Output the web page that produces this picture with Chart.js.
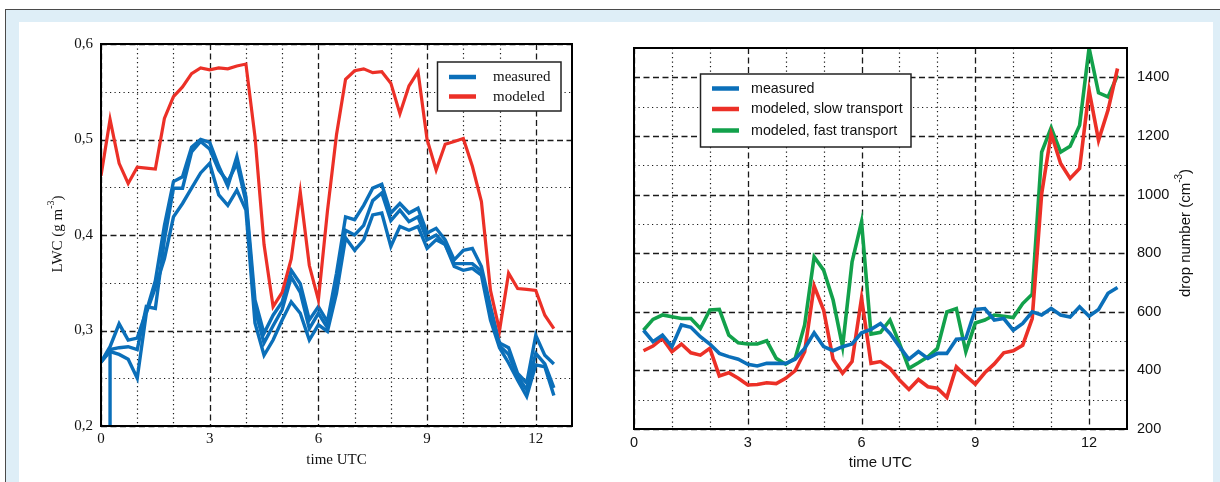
<!DOCTYPE html>
<html><head><meta charset="utf-8">
<script src="https://cdn.jsdelivr.net/npm/chart.js@4.4.0/dist/chart.umd.min.js"></script>
<style>
html,body{margin:0;padding:0;width:1220px;height:482px;overflow:hidden;background:#fff;}
#frame{position:absolute;left:5px;top:9px;width:1220px;height:480px;background:#deeef7;border-left:1.5px solid #4a4a4a;border-top:1.5px solid #4a4a4a;}
#panel{position:absolute;left:19px;top:22px;width:1194px;height:470px;background:#fff;}
canvas{position:absolute;top:0;}
</style></head><body>
<div id="frame"></div><div id="panel"></div>
<canvas id="c1" width="610" height="482" style="left:0px"></canvas>
<canvas id="c2" width="610" height="482" style="left:610px"></canvas>
<script>
// ---------- Left chart: LWC ----------
const lwcTime = [0,0.25,0.5,0.75,1,1.25,1.5,1.75,2,2.25,2.5,2.75,3,3.25,3.5,3.75,4,4.25,4.5,4.75,5,5.25,5.5,5.75,6,6.25,6.5,6.75,7,7.25,7.5,7.75,8,8.25,8.5,8.75,9,9.25,9.5,9.75,10,10.25,10.5,10.75,11,11.25,11.5,11.75,12,12.25,12.5];
const lwcMeasuredA = [0.267,0.283,0.307,0.29,0.292,0.32,0.352,0.41,0.456,0.461,0.492,0.5,0.497,0.472,0.451,0.482,0.44,0.332,0.297,0.316,0.33,0.363,0.349,0.311,0.325,0.309,0.36,0.419,0.416,0.431,0.449,0.453,0.423,0.433,0.423,0.428,0.402,0.407,0.395,0.374,0.384,0.386,0.367,0.325,0.287,0.282,0.255,0.245,0.295,0.274,0.265];
const lwcMeasuredB = [0.267,0.28,0.282,0.283,0.28,0.325,0.323,0.395,0.449,0.449,0.487,0.498,0.49,0.468,0.456,0.475,0.435,0.322,0.287,0.305,0.322,0.356,0.34,0.302,0.318,0.303,0.35,0.405,0.4,0.41,0.436,0.444,0.415,0.426,0.414,0.419,0.395,0.4,0.39,0.37,0.37,0.37,0.362,0.318,0.284,0.275,0.252,0.238,0.276,0.265,0.24];
const lwcMeasuredC = [0.267,0.278,0.275,0.27,0.25,0.318,0.345,0.375,0.419,0.433,0.449,0.465,0.475,0.442,0.431,0.447,0.426,0.308,0.274,0.29,0.311,0.33,0.318,0.29,0.306,0.299,0.339,0.397,0.384,0.395,0.421,0.423,0.388,0.409,0.405,0.409,0.386,0.395,0.39,0.367,0.363,0.365,0.358,0.311,0.282,0.266,0.248,0.231,0.264,0.262,0.232];
const lwcDropTime = [0.25,0.25];
const lwcDropValues = [0.28,0.1];
const lwcModeled = [0.462,0.521,0.475,0.454,0.471,0.470,0.469,0.522,0.545,0.555,0.569,0.575,0.573,0.575,0.574,0.577,0.579,0.503,0.39,0.325,0.34,0.375,0.445,0.368,0.332,0.425,0.505,0.563,0.572,0.574,0.570,0.571,0.559,0.527,0.556,0.571,0.5,0.468,0.495,0.498,0.501,0.472,0.435,0.342,0.30,0.36,0.344,0.343,0.342,0.316,0.302];
const lwcXTicks = [0,3,6,9,12];
const lwcXTickLabels = ['0','3','6','9','12'];
const lwcYTicks = [0.2,0.3,0.4,0.5,0.6];
const lwcYTickLabels = ['0,2','0,3','0,4','0,5','0,6'];
const lwcMinorX = [1,2,4,5,7,8,10,11];
const lwcMinorY = [0.25,0.35,0.45,0.55];

// ---------- Right chart: drop number ----------
const dropTime = [0.25,0.5,0.75,1,1.25,1.5,1.75,2,2.25,2.5,2.75,3,3.25,3.5,3.75,4,4.25,4.5,4.75,5,5.25,5.5,5.75,6,6.25,6.5,6.75,7,7.25,7.5,7.75,8,8.25,8.5,8.75,9,9.25,9.5,9.75,10,10.25,10.5,10.75,11,11.25,11.5,11.75,12,12.25,12.5,12.75];
const dropMeasured = [537,498,520,481,555,547,515,490,458,447,438,421,415,424,424,424,438,475,528,481,467,481,490,528,540,560,526,481,438,464,441,458,458,506,509,608,611,572,577,537,560,600,589,611,589,582,617,585,608,663,683];
const dropSlow = [467,483,509,464,490,460,452,475,381,392,373,350,352,358,355,373,399,464,688,606,438,390,430,646,424,430,407,367,335,369,344,339,308,412,381,353,392,422,460,467,486,577,1003,1208,1106,1055,1089,1355,1185,1288,1430];
const dropFast = [537,574,589,583,577,577,543,606,608,520,494,490,490,501,441,421,441,555,787,742,640,481,770,907,524,530,572,492,407,426,446,475,600,611,464,562,572,589,585,580,628,660,1145,1228,1145,1165,1236,1500,1347,1333,1407];
const dropXTicks = [0,3,6,9,12];
const dropXTickLabels = ['0','3','6','9','12'];
const dropYTicks = [200,400,600,800,1000,1200,1400];
const dropYTickLabels = ['200','400','600','800','1000','1200','1400'];
const dropMinorX = [1,2,4,5,7,8,10,11];
const dropMinorY = [300,500,700,900,1100,1300];

const BLUE = '#0b6fb9', RED = '#ec3027', GREEN = '#12a14b';
const SERIF = "'Liberation Serif', 'Times New Roman', serif";
const SANS = "'Liberation Sans', Arial, sans-serif";

const toXY = (xs, ys) => xs.map((x, i) => ({x: x, y: ys[i]}));

const gridPlugin = {
  id: 'customGrid',
  beforeDatasetsDraw(chart, args, o) {
    const ctx = chart.ctx, a = chart.chartArea, x = chart.scales.x, y = chart.scales.y;
    ctx.save();
    ctx.strokeStyle = '#1a1a1a';
    ctx.lineWidth = 1.2; ctx.setLineDash([1.2, 3.3]);
    ctx.beginPath();
    o.minorX.forEach(v => { const p = Math.round(x.getPixelForValue(v)) + 0.5; ctx.moveTo(p, a.top); ctx.lineTo(p, a.bottom); });
    o.minorY.forEach(v => { const p = Math.round(y.getPixelForValue(v)) + 0.5; ctx.moveTo(a.left, p); ctx.lineTo(a.right, p); });
    ctx.stroke();
    ctx.lineWidth = 1.3; ctx.setLineDash([6, 3.5]);
    ctx.beginPath();
    o.majorX.forEach(v => { const p = Math.round(x.getPixelForValue(v)) + 0.5; ctx.moveTo(p, a.top); ctx.lineTo(p, a.bottom); });
    o.majorY.forEach(v => { const p = Math.round(y.getPixelForValue(v)) + 0.5; ctx.moveTo(a.left, p); ctx.lineTo(a.right, p); });
    ctx.stroke();
    ctx.restore();
  },
  afterDatasetsDraw(chart) {
    const ctx = chart.ctx, a = chart.chartArea;
    ctx.save();
    ctx.strokeStyle = '#000'; ctx.lineWidth = 2; ctx.setLineDash([]);
    ctx.strokeRect(a.left, a.top, a.right - a.left, a.bottom - a.top);
    ctx.restore();
  }
};

function drawRuns(ctx, runs, size, family, cx, cy, rot) {
  ctx.save();
  ctx.translate(cx, cy); ctx.rotate(rot);
  const supSize = Math.round(size * 0.68);
  let total = 0;
  runs.forEach(r => { ctx.font = (r.sup ? supSize : size) + 'px ' + family; r.w = ctx.measureText(r.t).width; total += r.w; });
  let xx = -total / 2;
  ctx.textBaseline = 'middle'; ctx.textAlign = 'left'; ctx.fillStyle = '#111';
  runs.forEach(r => {
    ctx.font = (r.sup ? supSize : size) + 'px ' + family;
    ctx.fillText(r.t, xx, r.sup ? -size * 0.42 : 0);
    xx += r.w;
  });
  ctx.restore();
}

const titlesPlugin = {
  id: 'axisTitles',
  afterDraw(chart, args, o) {
    const ctx = chart.ctx, a = chart.chartArea;
    drawRuns(ctx, o.xTitle, o.size, o.family, (a.left + a.right) / 2, o.xTitleY, 0);
    drawRuns(ctx, o.yTitle, o.size, o.family, o.yTitleX, o.yTitleY, -Math.PI / 2);
  }
};

const legendPlugin = {
  id: 'boxLegend',
  afterDraw(chart, args, o) {
    const ctx = chart.ctx;
    ctx.save();
    ctx.fillStyle = '#fff';
    ctx.fillRect(o.box[0], o.box[1], o.box[2] - o.box[0], o.box[3] - o.box[1]);
    ctx.strokeStyle = '#222'; ctx.lineWidth = 1.5; ctx.setLineDash([]);
    ctx.strokeRect(o.box[0], o.box[1], o.box[2] - o.box[0], o.box[3] - o.box[1]);
    ctx.font = o.size + 'px ' + o.family; ctx.textBaseline = 'middle'; ctx.textAlign = 'left';
    o.entries.forEach((di, k) => {
      const ds = chart.data.datasets[di];
      const yy = o.rows[k];
      ctx.strokeStyle = ds.borderColor; ctx.lineWidth = 4.5;
      ctx.beginPath(); ctx.moveTo(o.lineX[0], yy); ctx.lineTo(o.lineX[1], yy); ctx.stroke();
      ctx.fillStyle = '#111';
      ctx.fillText(ds.label, o.textX, yy + 0.5);
    });
    ctx.restore();
  }
};

const lineDefaults = {pointRadius: 0, fill: false, tension: 0, borderJoinStyle: 'miter'};

new Chart(document.getElementById('c1'), {
  type: 'line',
  data: {
    datasets: [
      Object.assign({label: 'modeled', data: toXY(lwcTime, lwcModeled), borderColor: RED, borderWidth: 3.2}, lineDefaults),
      Object.assign({label: 'measured', data: toXY(lwcTime, lwcMeasuredA), borderColor: BLUE, borderWidth: 3.4}, lineDefaults),
      Object.assign({label: 'measured B', data: toXY(lwcTime, lwcMeasuredB), borderColor: BLUE, borderWidth: 3.4}, lineDefaults),
      Object.assign({label: 'measured C', data: toXY(lwcTime, lwcMeasuredC), borderColor: BLUE, borderWidth: 3.4}, lineDefaults),
      Object.assign({label: 'measured D', data: toXY(lwcDropTime, lwcDropValues), borderColor: BLUE, borderWidth: 3.4}, lineDefaults)
    ]
  },
  options: {
    responsive: false, animation: false, devicePixelRatio: 1,
    layout: {padding: {left: 51, right: 38, top: 44, bottom: 16}},
    plugins: {
      legend: {display: false}, tooltip: {enabled: false},
      customGrid: {minorX: lwcMinorX, minorY: lwcMinorY, majorX: lwcXTicks, majorY: lwcYTicks},
      axisTitles: {size: 15, family: SERIF, xTitle: [{t: 'time UTC'}], xTitleY: 460,
        yTitle: [{t: 'LWC (g m'}, {t: '-3', sup: true}, {t: ')'}], yTitleX: 58, yTitleY: 234},
      boxLegend: {box: [437.5, 62, 561, 111], entries: [1, 0], rows: [77, 96.5], lineX: [449, 476], textX: 493, size: 15, family: SERIF}
    },
    scales: {
      x: {type: 'linear', min: 0, max: 13,
        grid: {display: false, drawTicks: false}, border: {display: false},
        afterBuildTicks: s => { s.ticks = lwcXTicks.map(v => ({value: v})); },
        afterFit: s => { s.height = 40; },
        ticks: {font: {family: SERIF, size: 15}, color: '#111', padding: 4, maxRotation: 0, autoSkip: false,
          callback: (v, i) => lwcXTickLabels[i]}},
      y: {type: 'linear', min: 0.2, max: 0.6,
        grid: {display: false, drawTicks: false}, border: {display: false},
        afterBuildTicks: s => { s.ticks = lwcYTicks.map(v => ({value: v})); },
        afterFit: s => { s.width = 50; },
        ticks: {font: {family: SERIF, size: 15}, color: '#111', padding: 8, autoSkip: false,
          callback: (v, i) => lwcYTickLabels[i]}}
    }
  },
  plugins: [gridPlugin, titlesPlugin, legendPlugin]
});

new Chart(document.getElementById('c2'), {
  type: 'line',
  data: {
    datasets: [
      Object.assign({label: 'measured', data: toXY(dropTime, dropMeasured), borderColor: BLUE, borderWidth: 3.6}, lineDefaults),
      Object.assign({label: 'modeled, slow transport', data: toXY(dropTime, dropSlow), borderColor: RED, borderWidth: 3.6}, lineDefaults),
      Object.assign({label: 'modeled, fast transport', data: toXY(dropTime, dropFast), borderColor: GREEN, borderWidth: 3.6}, lineDefaults)
    ]
  },
  options: {
    responsive: false, animation: false, devicePixelRatio: 1,
    layout: {padding: {left: 24, right: 33, top: 48, bottom: 13}},
    plugins: {
      legend: {display: false}, tooltip: {enabled: false},
      customGrid: {minorX: dropMinorX, minorY: dropMinorY, majorX: dropXTicks, majorY: dropYTicks},
      axisTitles: {size: 15, family: SANS, xTitle: [{t: 'time UTC'}], xTitleY: 463,
        yTitle: [{t: 'drop number (cm'}, {t: '-3', sup: true}, {t: ')'}], yTitleX: 576, yTitleY: 233},
      boxLegend: {box: [90.5, 74, 301, 147], entries: [0, 1, 2], rows: [88.5, 109, 130.5], lineX: [102, 129], textX: 141, size: 14.3, family: SANS}
    },
    scales: {
      x: {type: 'linear', min: 0, max: 13,
        grid: {display: false, drawTicks: false}, border: {display: false},
        afterBuildTicks: s => { s.ticks = dropXTicks.map(v => ({value: v})); },
        afterFit: s => { s.height = 40; },
        ticks: {font: {family: SANS, size: 14.5}, color: '#111', padding: 5, maxRotation: 0, autoSkip: false,
          callback: (v, i) => dropXTickLabels[i]}},
      y: {type: 'linear', position: 'right', min: 200, max: 1500,
        grid: {display: false, drawTicks: false}, border: {display: false},
        afterBuildTicks: s => { s.ticks = dropYTicks.map(v => ({value: v})); },
        afterFit: s => { s.width = 60; },
        ticks: {font: {family: SANS, size: 14.5}, color: '#111', padding: 10, autoSkip: false,
          callback: (v, i) => dropYTickLabels[i]}}
    }
  },
  plugins: [gridPlugin, titlesPlugin, legendPlugin]
});
</script>
</body></html>
